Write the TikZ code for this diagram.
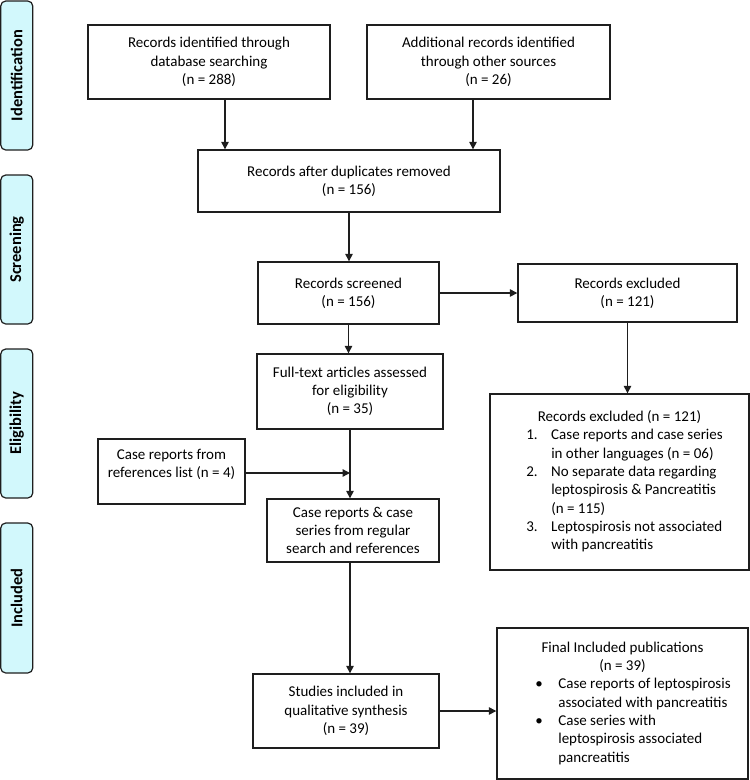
\documentclass[tikz,border=0pt]{standalone}
\usepackage{fontspec}
\setmainfont{Carlito}
\usetikzlibrary{arrows.meta}
\definecolor{sidecol}{RGB}{210,248,252}
\definecolor{linecol}{RGB}{30,30,30}
\begin{document}
\begin{tikzpicture}[x=1pt,y=-1pt,
  box/.style={draw=linecol, line width=1.4pt, align=center, inner sep=0pt,
    font=\fontsize{15}{18.3}\selectfont},
  side/.style={draw=linecol, line width=1.2pt, fill=sidecol, rounded corners=5pt,
    minimum height=32pt, inner sep=0pt, rotate=90,
    font=\fontsize{16.5}{18}\selectfont\bfseries},
  arr/.style={draw=linecol, line width=1.4pt, -{Triangle[length=7.5pt,width=7.5pt]}}]
\useasboundingbox (0,0) rectangle (750,780);

% side labels
\node[side, minimum width=149pt] (sid) at (16.75,75.5) {Identification};
\node[side, minimum width=149pt] (ssc) at (16.75,249.5) {Screening};
\node[side, minimum width=149pt] (sel) at (16.75,423.5) {Eligibility};
\node[side, minimum width=150pt] (sin) at (16.75,598) {Included};

% boxes
\node[box, minimum width=242pt, minimum height=74pt] (db) at (209,62)
  {Records identified through\\database searching\\(n = 288)};
\node[box, minimum width=243pt, minimum height=74pt] (add) at (488.5,62)
  {Additional records identified\\through other sources\\(n = 26)};
\node[box, minimum width=302pt, minimum height=62pt] (dup) at (349,181)
  {Records after duplicates removed\\(n = 156)};
\node[box, minimum width=181pt, minimum height=62pt] (scr) at (348.5,293)
  {Records screened\\(n = 156)};
\node[box, minimum width=219pt, minimum height=58pt] (excl) at (627.5,293)
  {Records excluded\\(n = 121)};
\node[box, minimum width=186pt, minimum height=75pt] (full) at (350,391.5)
  {Full-text articles assessed\\for eligibility\\(n = 35)};
\node[box, minimum width=147pt, minimum height=65pt] (refs) at (171.5,471.5)
  {Case reports from\\references list (n = 4)\\[-2pt]};
\node[box, minimum width=172pt, minimum height=63pt] (ser) at (353,530.5)
  {Case reports \& case\\series from regular\\search and references};
\node[box, minimum width=259pt, minimum height=176pt] (big) at (619.5,482)
  {\begin{tabular}{@{\hspace{10pt}}p{25pt}@{}l@{}}
   \multicolumn{2}{@{}c@{}}{Records excluded (n = 121)}\\
   1. & Case reports and case series\\
      & in other languages (n = 06)\\
   2. & No separate data regarding\\
      & leptospirosis \& Pancreatitis\\
      & (n = 115)\\
   3. & Leptospirosis not associated\\
      & with pancreatitis
   \end{tabular}};
\node[box, minimum width=186pt, minimum height=74pt] (stu) at (346,711)
  {Studies included in\\qualitative synthesis\\(n = 39)};
\node[box, minimum width=251pt, minimum height=151pt] (fin) at (622.5,703.5)
  {\begin{tabular}{@{\hspace{20pt}}p{24pt}@{}l@{}}
   \multicolumn{2}{@{}c@{}}{Final Included publications}\\
   \multicolumn{2}{@{}c@{}}{(n = 39)}\\
   \hspace*{1pt}• & Case reports of leptospirosis\\
      & associated with pancreatitis\\
   \hspace*{1pt}• & Case series with\\
      & leptospirosis associated\\
      & pancreatitis
   \end{tabular}};

% connectors
\draw[arr] ([xshift=16pt]db.south) -- ([xshift=16pt]db.south |- dup.north);
\draw[arr] ([xshift=-15.5pt]add.south) -- ([xshift=-15.5pt]add.south |- dup.north);
\draw[arr] (dup.south) -- (dup.south |- scr.north);
\draw[arr] (scr.east) -- (excl.west);
\draw[arr] (excl.south) -- (excl.south |- big.north);
\draw[arr] (scr.south) -- (scr.south |- full.north);
\draw[arr] (full.south) -- (full.south |- ser.north);
\draw[arr] ([yshift=-1.5pt]refs.east) -- ([yshift=-1.5pt]refs.east -| full.south);
\draw[arr] (full.south |- ser.south) -- (full.south |- stu.north);
\draw[arr] (stu.east) -- (stu.east -| fin.west);
\end{tikzpicture}
\end{document}
